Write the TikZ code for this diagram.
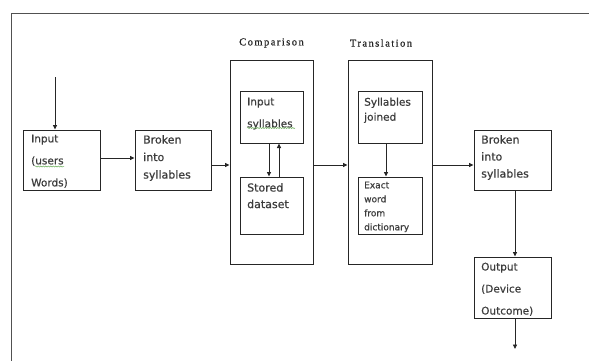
\documentclass[tikz,border=0pt]{standalone}
\usepackage{fontspec}
\setmainfont{DejaVu Sans}[FakeBold=0.6]
\newfontfamily\labelserif{Liberation Serif}[LetterSpace=14,FakeBold=0.8]
\usetikzlibrary{arrows.meta,decorations.pathmorphing}
\definecolor{ink}{HTML}{262626}
\definecolor{spell}{HTML}{6AAE5A}
\tikzset{
  box/.style={draw=ink,line width=1pt,rectangle,inner sep=0pt},
  txt/.style={anchor=north west,align=left,inner sep=0pt,text=ink!90},
  conn/.style={draw=ink,line width=0.85pt,-{Triangle[length=4.5pt,width=4pt]}},
  stage/.style={font=\labelserif\fontsize{10.5}{12}\selectfont,text=ink,inner sep=0pt},
  squig/.style={draw=spell,line width=0.5pt,decorate,decoration={snake,amplitude=0.6pt,segment length=2.5pt}}
}
\begin{document}
\begin{tikzpicture}[x=1pt,y=-1pt]
\useasboundingbox (0,0) rectangle (589,360);
% outer frame (clipped at right and bottom)
\draw[draw=ink!80,line width=1pt] (11,372) -- (11,13) -- (600,13);

% boxes
\node[box,minimum width=77pt,minimum height=60pt] (inp) at (61.5,160) {};
\node[box,minimum width=76pt,minimum height=60pt] (brk1) at (173,160) {};
\node[box,minimum width=83pt,minimum height=204pt] (cmp) at (271.5,162) {};
\node[box,minimum width=63pt,minimum height=52pt] (insyl) at (271.5,117) {};
\node[box,minimum width=63pt,minimum height=57pt] (stored) at (271.5,205.5) {};
\node[box,minimum width=84pt,minimum height=204pt] (trn) at (390,162) {};
\node[box,minimum width=64pt,minimum height=52pt] (joined) at (390,117) {};
\node[box,minimum width=64pt,minimum height=57pt] (exact) at (390,205.5) {};
\node[box,minimum width=77pt,minimum height=60pt] (brk2) at (512.5,160) {};
\node[box,minimum width=77pt,minimum height=61pt] (out) at (512.5,287.5) {};

% stage labels
\node[stage] (cmplabel) at (271.5,43) {Comparison};
\node[stage] (trnlabel) at (381,43) {Translation};

% texts
\node[txt,font=\fontsize{10.5}{22}\selectfont] (tinp) at (31,134.5) {Input\\(users\\Words)};
\node[txt,font=\fontsize{11}{17.5}\selectfont] (tbrk1) at (143,135) {Broken\\into\\syllables};
\node[txt,font=\fontsize{10.5}{22}\selectfont] (tinsyl) at (247,97.5) {Input\\syllables};
\node[txt,font=\fontsize{11}{16.5}\selectfont] (tstored) at (247,183) {Stored\\dataset};
\node[txt,font=\fontsize{10.5}{15}\selectfont] (tjoined) at (364,97.5) {Syllables\\joined};
\node[txt,font=\fontsize{9}{14}\selectfont] (texact) at (364,181.5) {Exact\\word\\from\\dictionary};
\node[txt,font=\fontsize{11}{17}\selectfont] (tbrk2) at (481,135) {Broken\\into\\syllables};
\node[txt,font=\fontsize{10.5}{22}\selectfont] (tout) at (481,262.5) {Output\\(Device\\Outcome)};

% spell-check underlines
\draw[squig] (35,166.5) -- (64,166.5);
\draw[squig] (247,128) -- (295,128);

% connectors
\coordinate (top) at (55,77);
\coordinate (end) at (515,349);
\draw[conn] (top) -- (top |- inp.north);
\draw[conn] (inp.east |- 0,158) -- (brk1.west |- 0,158);
\draw[conn] (brk1.east |- 0,165) -- (cmp.west |- 0,165);
\draw[conn] ([xshift=-2.5pt]insyl.south) -- ([xshift=-2.5pt]stored.north);
\draw[conn] ([xshift=7.5pt]stored.north) -- ([xshift=7.5pt]insyl.south);
\draw[conn] (cmp.east |- 0,165) -- (trn.west |- 0,165);
\draw[conn] ([xshift=-4pt]joined.south) -- ([xshift=-4pt]exact.north);
\draw[conn] (trn.east |- 0,165) -- (brk2.west |- 0,165);
\draw[conn] ([xshift=2.5pt]brk2.south) -- ([xshift=2.5pt]out.north);
\draw[conn] ([xshift=2.5pt]out.south) -- (end);
\end{tikzpicture}
\end{document}
